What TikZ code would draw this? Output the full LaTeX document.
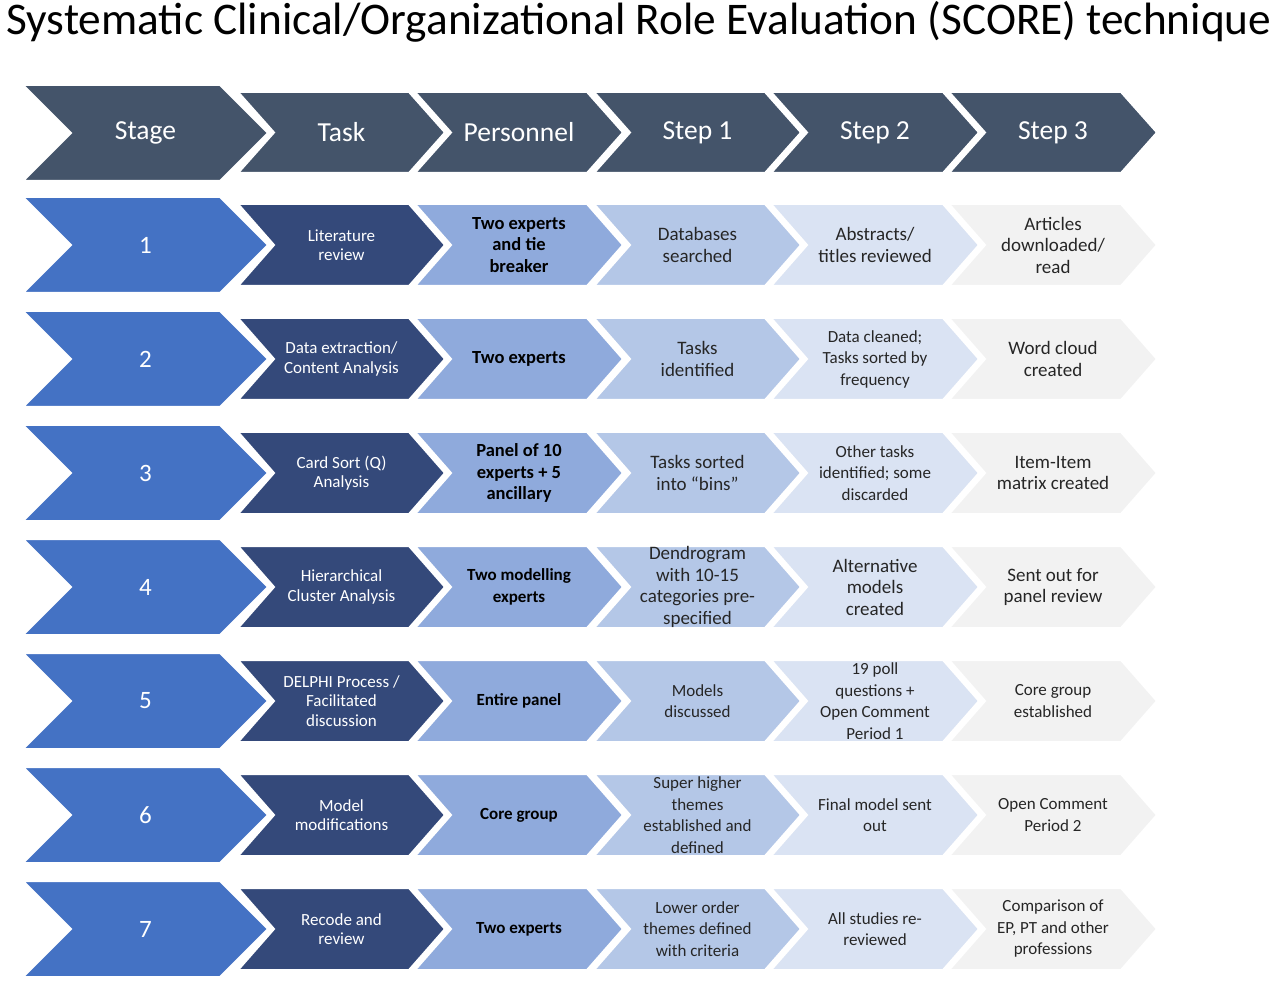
\documentclass[tikz,border=0pt]{standalone}
\usepackage{fontspec}
\setmainfont{Carlito}
\definecolor{hd}{HTML}{44546A}
\definecolor{cs}{HTML}{4472C4}
\definecolor{ct}{HTML}{34497A}
\definecolor{cp}{HTML}{8FAADC}
\definecolor{c1}{HTML}{B4C7E7}
\definecolor{c2}{HTML}{DAE3F3}
\definecolor{c3}{HTML}{F2F2F2}
\definecolor{tx}{HTML}{262626}
\newcommand{\chev}[7]{% name, xl, xr, yt, yb, depth, fill
  \fill[#7,draw=white,line width=2pt] (#2,#4) -- (#3-#6,#4) -- (#3,{(#4+#5)/2}) -- (#3-#6,#5) -- (#2,#5) -- (#2+#6,{(#4+#5)/2}) -- cycle;
  \coordinate (#1) at ({(#2+#3)/2},{(#4+#5)/2});}
\newcommand{\sm}{\fontsize{17}{19.5}\selectfont}
\newcommand{\pb}{\fontsize{17}{20}\selectfont}
\tikzset{lab/.style={align=center,text=tx,inner sep=0pt},
 hdl/.style={lab,text=white,font=\fontsize{27.5}{30}\selectfont},
 tl/.style={lab,text=white,font=\fontsize{17}{19.5}\selectfont},
 pl/.style={lab,text=black,font=\bfseries\fontsize{18.5}{21.5}\selectfont},
 sl/.style={lab,font=\fontsize{19}{21.5}\selectfont}}
\begin{document}
\begin{tikzpicture}[x=1pt,y=-1pt]
\useasboundingbox (0,0) rectangle (1280,981);
\node[font=\fontsize{45.3}{50}\selectfont,inner sep=0pt] (title) at (639,22) {Systematic Clinical/Organizational Role Evaluation (SCORE) technique};
% header
\chev{h0}{23}{268}{85}{181}{48}{hd}
\chev{h1}{238}{445}{92}{173}{36}{hd}
\chev{h2}{415}{623}{92}{173}{36}{hd}
\chev{h3}{594}{801}{92}{173}{36}{hd}
\chev{h4}{771}{979}{92}{173}{36}{hd}
\chev{h5}{949}{1157}{92}{173}{36}{hd}
\node[hdl] at (h0) {Stage};
\node[hdl] at (h1) {Task};
\node[hdl] at (h2) {Personnel};
\node[hdl] at (h3) {Step 1};
\node[hdl] at (h4) {Step 2};
\node[hdl] at (h5) {Step 3};
\foreach \r/\a/\b/\c/\d/\e in {
 1/{Literature\\review}/{Two experts\\and tie\\breaker}/{Databases\\searched}/{Abstracts/\\titles reviewed}/{Articles\\downloaded/\\read},
 2/{Data extraction/\\Content Analysis}/{Two experts}/{Tasks\\identified}/{\sm Data cleaned;\\\sm Tasks sorted by\\\sm frequency}/{Word cloud\\created},
 3/{Card Sort (Q)\\Analysis}/{Panel of 10\\experts + 5\\ancillary}/{Tasks sorted\\into “bins”}/{\sm Other tasks\\\sm identified; some\\\sm discarded}/{Item-Item\\matrix created},
 4/{Hierarchical\\Cluster Analysis}/{\pb Two modelling\\\pb experts}/{Dendrogram\\with 10-15\\categories pre-\\specified}/{Alternative\\models\\created}/{Sent out for\\panel review},
 5/{DELPHI Process /\\Facilitated\\discussion}/{\pb Entire panel}/{\sm Models\\\sm discussed}/{\sm 19 poll\\\sm questions +\\\sm Open Comment\\\sm Period 1}/{\sm Core group\\\sm established},
 6/{Model\\modifications}/{\pb Core group}/{\sm Super higher\\\sm themes\\\sm established and\\\sm defined}/{\sm Final model sent\\\sm out}/{\sm Open Comment\\\sm Period 2},
 7/{Recode and\\review}/{\pb Two experts}/{\sm Lower order\\\sm themes defined\\\sm with criteria}/{\sm All studies re-\\\sm reviewed}/{\sm Comparison of\\\sm EP, PT and other\\\sm professions}}{
 \pgfmathsetmacro{\yc}{245+114*(\r-1)}
 \chev{s\r}{23}{268}{\yc-48}{\yc+48}{48}{cs}
 \chev{t\r}{238}{445}{\yc-41}{\yc+41}{36}{ct}
 \chev{p\r}{415}{623}{\yc-41}{\yc+41}{36}{cp}
 \chev{a\r}{594}{801}{\yc-41}{\yc+41}{36}{c1}
 \chev{b\r}{771}{979}{\yc-41}{\yc+41}{36}{c2}
 \chev{c\r}{949}{1157}{\yc-41}{\yc+41}{36}{c3}
 \node[hdl,font=\fontsize{25}{27}\selectfont] at (s\r) {\r};
 \node[tl] at (t\r) {\a};
 \node[pl] at (p\r) {\b};
 \node[sl] at (a\r) {\c};
 \node[sl] at (b\r) {\d};
 \node[sl] at (c\r) {\e};
}
\end{tikzpicture}
\end{document}
